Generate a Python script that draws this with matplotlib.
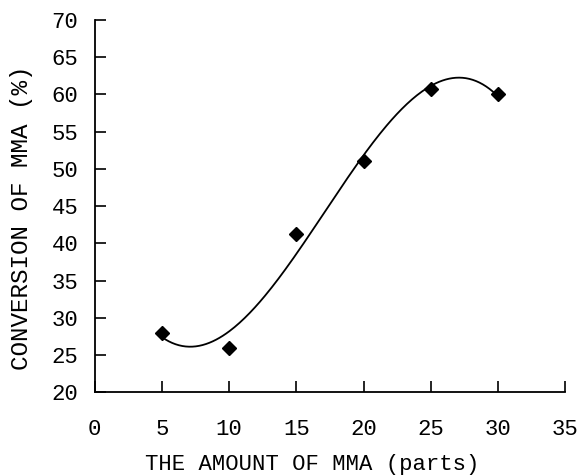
import numpy as np
import matplotlib
matplotlib.use("Agg")
import matplotlib.pyplot as plt

plt.rcParams['font.family'] = 'Liberation Mono'

# data
mma_parts = [5, 10, 15, 20, 25, 30]
conversion = [28.0, 26.0, 41.2, 51.0, 60.7, 60.0]
x_ticks = [0, 5, 10, 15, 20, 25, 30, 35]
y_ticks = [20, 25, 30, 35, 40, 45, 50, 55, 60, 65, 70]


def draw_conversion():
    fig = plt.figure(figsize=(5.78, 4.76), dpi=100)
    ax = fig.add_axes([0.164, 0.176, 0.814, 0.782])

    # cubic trend line, like the spreadsheet polynomial fit
    coef = np.polyfit(mma_parts, conversion, 3)
    xs = np.linspace(min(mma_parts), max(mma_parts), 200)
    ax.plot(xs, np.polyval(coef, xs), color='black', lw=1.3)
    ax.plot(mma_parts, conversion, linestyle='none', marker='D',
            color='black', markersize=7)

    ax.set_xlim(0, 35)
    ax.set_ylim(20, 70)
    ax.set_xticks(x_ticks)
    ax.set_yticks(y_ticks)
    ax.spines['top'].set_visible(False)
    ax.spines['right'].set_visible(False)
    ax.spines['left'].set_linewidth(1.3)
    ax.spines['bottom'].set_linewidth(1.3)
    ax.tick_params(axis='both', direction='in', length=8, width=1.2, labelsize=16)
    ax.tick_params(axis='x', pad=19)
    ax.tick_params(axis='y', pad=12)

    ax.set_xlabel("THE AMOUNT OF MMA (parts)", fontsize=16)
    ax.set_ylabel("CONVERSION OF MMA (%)", fontsize=17.5)
    ax.xaxis.set_label_coords(0.462, -0.166)
    ax.yaxis.set_label_coords(-0.132, 0.468)

    plt.savefig("out.png")


if __name__ == '__main__':
    draw_conversion()
